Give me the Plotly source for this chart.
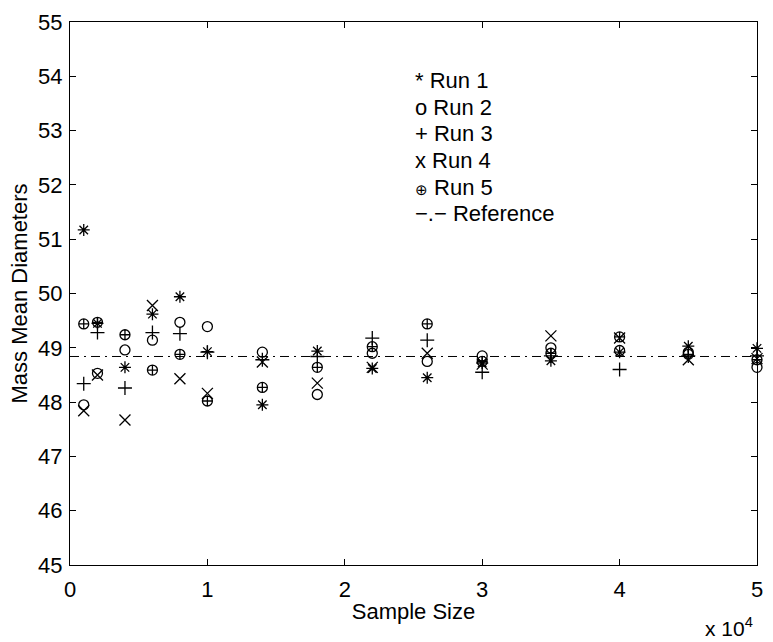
import plotly.graph_objects as go

# ---- data ----
sample_sizes = [1000, 2000, 4000, 6000, 8000, 10000, 14000, 18000, 22000,
                26000, 30000, 35000, 40000, 45000, 50000]
run1 = [51.17, 49.45, 48.64, 49.62, 49.94, 48.93, 47.95, 48.94, 48.62,
        48.45, 48.72, 48.76, 48.92, 49.03, 48.99]
run2 = [47.95, 48.53, 48.96, 49.14, 49.47, 49.39, 48.92, 48.14, 48.90,
        48.75, 48.85, 49.00, 48.95, 48.92, 48.64]
run3 = [48.34, 49.28, 48.26, 49.28, 49.26, 48.92, 48.78, 48.84, 49.18,
        49.14, 48.55, 48.85, 48.60, 48.85, 48.85]
run4 = [47.84, 48.50, 47.67, 49.78, 48.43, 48.16, 48.74, 48.35, 48.64,
        48.90, 48.70, 49.22, 49.18, 48.78, 48.80]
run5 = [49.44, 49.47, 49.24, 48.59, 48.88, 48.02, 48.27, 48.64, 49.02,
        49.44, 48.75, 48.90, 49.20, 48.88, 48.78]
reference_value = 48.84
x_range = [0, 50000]

x_tick_vals = [0, 10000, 20000, 30000, 40000, 50000]
x_tick_text = ["0", "1", "2", "3", "4", "5"]
y_tick_vals = [45, 46, 47, 48, 49, 50, 51, 52, 53, 54, 55]

legend_marks = ["*", "o", "+", "x", "\u2295", "\u2212.\u2212"]
legend_names = ["Run 1", "Run 2", "Run 3", "Run 4", "Run 5", "Reference"]

FONT = "Liberation Sans, Arial, Helvetica, sans-serif"

runs = [
    (run1, "asterisk-open", 10),
    (run2, "circle-open", 10),
    (run3, "cross-thin-open", 10),
    (run4, "x-thin-open", 11),
    (run5, "circle-cross-open", 10),
]

fig = go.Figure()
for i, (vals, sym, sz) in enumerate(runs):
    fig.add_trace(go.Scatter(
        x=sample_sizes, y=vals, mode="markers", name=f"Run {i+1}",
        marker=dict(symbol=sym, size=sz, color="black",
                    line=dict(color="black", width=1.3)),
        cliponaxis=False, showlegend=False))

fig.add_trace(go.Scatter(
    x=x_range, y=[reference_value, reference_value], mode="lines",
    name="Reference", line=dict(color="black", width=1, dash="9px,5px,2px,5px"),
    showlegend=False))

# plot-area geometry in pixels
W, H = 773, 642
L, R, T, B = 70, 10, 16, 77
ph = H - T - B

annotations = []
row_px = [75, 102, 129, 156, 183, 210]
for mark, name, py in zip(legend_marks, legend_names, row_px):
    mark_size = 15 if mark == "\u2295" else 22
    annotations.append(dict(
        text=f"<span style='font-size:{mark_size}px'>{mark}</span> {name}",
        xref="paper", yref="paper",
        x=(416 - L) / (W - L - R), y=(H - B - py) / ph,
        xanchor="left", yanchor="middle", showarrow=False,
        font=dict(family=FONT, size=22, color="black")))

annotations.append(dict(
    text="x 10<sup>4</sup>", xref="paper", yref="paper",
    x=(761 - L) / (W - L - R), y=(H - B - 628) / ph,
    xanchor="right", yanchor="middle", showarrow=False,
    font=dict(family=FONT, size=21, color="black")))

axis_common = dict(
    showgrid=False, zeroline=False, showline=True, linecolor="black",
    linewidth=1, mirror="ticks", ticks="inside", ticklen=6,
    tickcolor="black", tickwidth=1,
    tickfont=dict(family=FONT, size=22, color="black"))

fig.update_layout(
    width=W, height=H,
    margin=dict(l=L, r=R, t=T, b=B),
    paper_bgcolor="white", plot_bgcolor="white",
    font=dict(family=FONT, size=22, color="black"),
    xaxis=dict(range=x_range, tickvals=x_tick_vals, ticktext=x_tick_text,
               title=dict(text="Sample Size", standoff=2,
                          font=dict(family=FONT, size=22)),
               ticklabelstandoff=5, **axis_common),
    yaxis=dict(range=[45, 55], tickvals=y_tick_vals,
               title=dict(text="Mass Mean Diameters", standoff=4,
                          font=dict(family=FONT, size=22)),
               ticklabelstandoff=2, **axis_common),
    annotations=annotations,
    showlegend=False,
)

fig.write_html("out.html")
